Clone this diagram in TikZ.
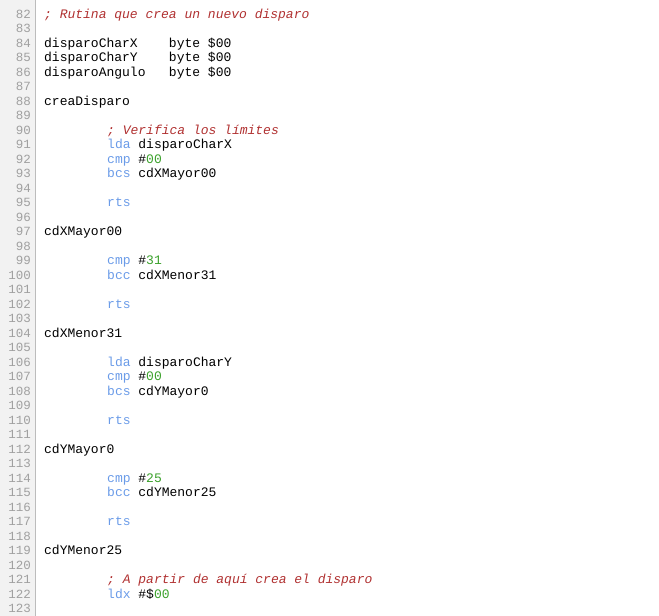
\documentclass[tikz,border=0pt]{standalone}
\usepackage{fontspec}
\setmainfont{Liberation Mono}
\definecolor{cmt}{HTML}{B03030}
\definecolor{kwc}{HTML}{6A9BE8}
\definecolor{numc}{HTML}{3AA02A}
\definecolor{lnc}{HTML}{A0A0A0}
\definecolor{gut}{HTML}{F2F2F2}
\newcommand\Kw[1]{\textcolor{kwc}{#1}}
\newcommand\Cm[1]{\textcolor{cmt}{\itshape #1}}
\newcommand\Nm[1]{\textcolor{numc}{#1}}
\begin{document}
\begin{tikzpicture}[x=1pt,y=-1pt,
  code/.style={anchor=base west,inner sep=0,font=\fontsize{13}{14}\selectfont},
  lnum/.style={anchor=base east,inner sep=0,text=lnc,font=\fontsize{12.5}{14}\selectfont}]
\useasboundingbox (0,0) rectangle (659,616);
\fill[gut] (0,0) rectangle (35,616);
\draw[lnc!70,line width=0.8] (35.5,0) -- (35.5,616);
\foreach \n [count=\i from 0] in {82,...,123}
  \node[lnum] (n\n) at (31,{18+14.5*\i}) {\n};
\def\L#1{{18+14.5*(#1-82)}}
\node[code] (c82) at (44,\L{82}) {\Cm{; Rutina que crea un nuevo disparo}};
\node[code] (c84) at (44,\L{84}) {disparoCharX\ \ \ \ byte \$00};
\node[code] (c85) at (44,\L{85}) {disparoCharY\ \ \ \ byte \$00};
\node[code] (c86) at (44,\L{86}) {disparoAngulo\ \ \ byte \$00};
\node[code] (c88) at (44,\L{88}) {creaDisparo};
\node[code] (c90) at (107,\L{90}) {\Cm{; Verifica los límites}};
\node[code] (c91) at (107,\L{91}) {\Kw{lda} disparoCharX};
\node[code] (c92) at (107,\L{92}) {\Kw{cmp} \#\Nm{00}};
\node[code] (c93) at (107,\L{93}) {\Kw{bcs} cdXMayor00};
\node[code] (c95) at (107,\L{95}) {\Kw{rts}};
\node[code] (c97) at (44,\L{97}) {cdXMayor00};
\node[code] (c99) at (107,\L{99}) {\Kw{cmp} \#\Nm{31}};
\node[code] (c100) at (107,\L{100}) {\Kw{bcc} cdXMenor31};
\node[code] (c102) at (107,\L{102}) {\Kw{rts}};
\node[code] (c104) at (44,\L{104}) {cdXMenor31};
\node[code] (c106) at (107,\L{106}) {\Kw{lda} disparoCharY};
\node[code] (c107) at (107,\L{107}) {\Kw{cmp} \#\Nm{00}};
\node[code] (c108) at (107,\L{108}) {\Kw{bcs} cdYMayor0};
\node[code] (c110) at (107,\L{110}) {\Kw{rts}};
\node[code] (c112) at (44,\L{112}) {cdYMayor0};
\node[code] (c114) at (107,\L{114}) {\Kw{cmp} \#\Nm{25}};
\node[code] (c115) at (107,\L{115}) {\Kw{bcc} cdYMenor25};
\node[code] (c117) at (107,\L{117}) {\Kw{rts}};
\node[code] (c119) at (44,\L{119}) {cdYMenor25};
\node[code] (c121) at (107,\L{121}) {\Cm{; A partir de aquí crea el disparo}};
\node[code] (c122) at (107,\L{122}) {\Kw{ldx} \#\$\Nm{00}};
\end{tikzpicture}
\end{document}
